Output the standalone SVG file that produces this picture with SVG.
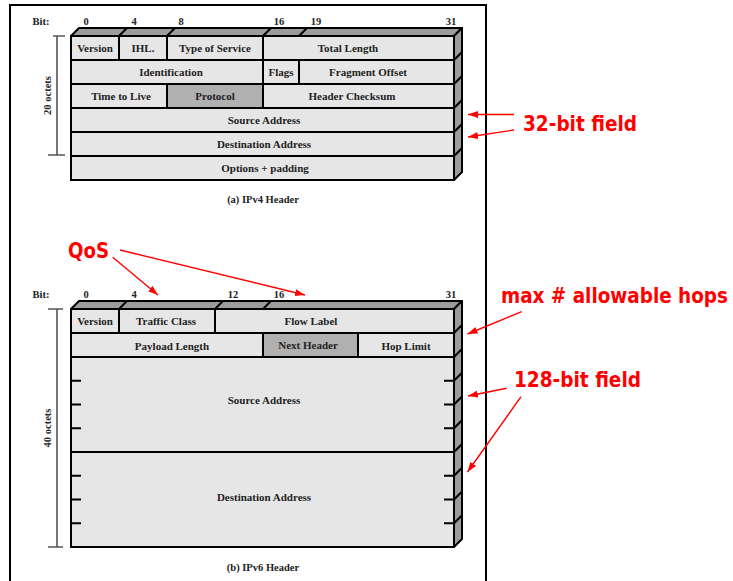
<svg xmlns="http://www.w3.org/2000/svg" width="733" height="581" viewBox="0 0 733 581">
<defs>
<style>
.frame{fill:none;stroke:#000;stroke-width:2}
.face{fill:#e6e6e6;stroke:#000;stroke-width:2}
.shade{fill:#b0b0b0;stroke:#000;stroke-width:2}
.top{fill:#9c9c9c;stroke:#000;stroke-width:2;stroke-linejoin:round}
.ln{stroke:#000;stroke-width:2;fill:none}
.br{stroke:#555;stroke-width:1.6;fill:none}
.t{font-family:"Liberation Serif","Times New Roman",serif;font-weight:bold;font-size:11px;fill:#222;text-anchor:middle}
.b{font-family:"Liberation Serif","Times New Roman",serif;font-weight:bold;font-size:10.5px;fill:#222;text-anchor:middle}
.r{font-family:"DejaVu Sans Condensed","DejaVu Sans",sans-serif;font-weight:bold;font-size:20.5px;fill:#ff0000}
.arr{stroke:#ff0000;stroke-width:1.4;fill:none;marker-end:url(#ah)}
</style>
<marker id="ah" markerUnits="userSpaceOnUse" markerWidth="11" markerHeight="8" refX="10" refY="3.5" orient="auto">
<path d="M0,0 L10,3.5 L0,7 z" fill="#ff0000"/>
</marker>
</defs>
<rect width="733" height="581" fill="#fff"/>
<path class="frame" d="M10,590 L10,5 L486,5 L486,590"/>

<g id="ipv4">
<g id="ipv4-3d">
<path class="top" d="M71,36 L79,28 L462,28 L454,36 Z"/>
<path class="top" d="M454,36 L462,28 L462,172 L454,180 Z"/>
<path class="ln" d="M119,36 L127,28 M167,36 L175,28 M263,36 L271,28 M299,36 L307,28 M454,60 L462,52 M454,84 L462,76 M454,108 L462,100 M454,132 L462,124 M454,156 L462,148"/>
</g>
<g id="v4-version"><rect class="face" x="71" y="36" width="48" height="24"/><text class="t" x="95" y="52">Version</text></g>
<g id="v4-ihl"><rect class="face" x="119" y="36" width="48" height="24"/><text class="t" x="143" y="52">IHL.</text></g>
<g id="v4-tos"><rect class="face" x="167" y="36" width="96" height="24"/><text class="t" x="215" y="52">Type of Service</text></g>
<g id="v4-totlen"><rect class="face" x="263" y="36" width="191" height="24"/><text class="t" x="348" y="52">Total Length</text></g>
<g id="v4-ident"><rect class="face" x="71" y="60" width="192" height="24"/><text class="t" x="171" y="76">Identification</text></g>
<g id="v4-flags"><rect class="face" x="263" y="60" width="36" height="24"/><text class="t" x="281" y="76">Flags</text></g>
<g id="v4-frag"><rect class="face" x="299" y="60" width="155" height="24"/><text class="t" x="368" y="76">Fragment Offset</text></g>
<g id="v4-ttl"><rect class="face" x="71" y="84" width="96" height="24"/><text class="t" x="121" y="100">Time to Live</text></g>
<g id="v4-proto"><rect class="shade" x="167" y="84" width="96" height="24"/><text class="t" x="215" y="100">Protocol</text></g>
<g id="v4-cksum"><rect class="face" x="263" y="84" width="191" height="24"/><text class="t" x="352" y="100">Header Checksum</text></g>
<g id="v4-src"><rect class="face" x="71" y="108" width="383" height="24"/><text class="t" x="264" y="124">Source Address</text></g>
<g id="v4-dst"><rect class="face" x="71" y="132" width="383" height="24"/><text class="t" x="264" y="148">Destination Address</text></g>
<g id="v4-opt"><rect class="face" x="71" y="156" width="383" height="24"/><text class="t" x="265" y="172">Options + padding</text></g>
<g id="v4-bits">
<text class="b" x="41" y="25">Bit:</text>
<text class="b" x="86" y="25">0</text>
<text class="b" x="134" y="25">4</text>
<text class="b" x="181" y="25">8</text>
<text class="b" x="279" y="25">16</text>
<text class="b" x="316" y="25">19</text>
<text class="b" x="451" y="25">31</text>
</g>
<g id="v4-octets">
<path class="br" d="M53,36 L65,36 M57,36 L57,155 M48,155 L65,155"/>
<text class="b" transform="translate(51,95.5) rotate(-90)">20 octets</text>
</g>
<text class="b" x="263" y="203">(a) IPv4 Header</text>
</g>

<g id="ipv6">
<g id="ipv6-3d">
<path class="top" d="M71,309 L79,301 L462,301 L454,309 Z"/>
<path class="top" d="M454,309 L462,301 L462,539 L454,547 Z"/>
<path class="ln" d="M119,309 L127,301 M215,309 L223,301 M263,309 L271,301 M454,333 L462,325 M454,357 L462,349 M454,380.75 L462,372.75 M454,404.5 L462,396.5 M454,428.25 L462,420.25 M454,452 L462,444 M454,475.75 L462,467.75 M454,499.5 L462,491.5 M454,523.25 L462,515.25"/>
</g>
<g id="v6-version"><rect class="face" x="71" y="309" width="48" height="24"/><text class="t" x="95" y="325">Version</text></g>
<g id="v6-tclass"><rect class="face" x="119" y="309" width="96" height="24"/><text class="t" x="166" y="325">Traffic Class</text></g>
<g id="v6-flow"><rect class="face" x="215" y="309" width="239" height="24"/><text class="t" x="311" y="325">Flow Label</text></g>
<g id="v6-plen"><rect class="face" x="71" y="333" width="192" height="24"/><text class="t" x="172" y="350">Payload Length</text></g>
<g id="v6-next"><rect class="shade" x="263" y="333" width="95" height="24"/><text class="t" x="308" y="349">Next Header</text></g>
<g id="v6-hop"><rect class="face" x="358" y="333" width="96" height="24"/><text class="t" x="406" y="350">Hop Limit</text></g>
<g id="v6-src"><rect class="face" x="71" y="357" width="383" height="95"/>
<path class="ln" d="M71,380.75 L81,380.75 M71,404.5 L81,404.5 M71,428.25 L81,428.25 M444,380.75 L454,380.75 M444,404.5 L454,404.5 M444,428.25 L454,428.25"/>
<text class="t" x="264" y="404">Source Address</text></g>
<g id="v6-dst"><rect class="face" x="71" y="452" width="383" height="95"/>
<path class="ln" d="M71,475.75 L81,475.75 M71,499.5 L81,499.5 M71,523.25 L81,523.25 M444,475.75 L454,475.75 M444,499.5 L454,499.5 M444,523.25 L454,523.25"/>
<text class="t" x="264" y="501">Destination Address</text></g>
<g id="v6-bits">
<text class="b" x="41" y="298">Bit:</text>
<text class="b" x="86" y="298">0</text>
<text class="b" x="134" y="298">4</text>
<text class="b" x="233" y="298">12</text>
<text class="b" x="279" y="298">16</text>
<text class="b" x="451" y="298">31</text>
</g>
<g id="v6-octets">
<path class="br" d="M48,309 L63,309 M57,309 L57,547 M48,547 L63,547"/>
<text class="b" transform="translate(51,428) rotate(-90)">40 octets</text>
</g>
<text class="b" x="263" y="571">(b) IPv6 Header</text>
</g>

<g id="labels">
<text id="lbl-32" class="r" x="523" y="131" textLength="114" lengthAdjust="spacingAndGlyphs">32-bit field</text>
<text id="lbl-qos" class="r" x="68" y="258" textLength="41" lengthAdjust="spacingAndGlyphs">QoS</text>
<text id="lbl-hops" class="r" x="501" y="303" textLength="227" lengthAdjust="spacingAndGlyphs">max # allowable hops</text>
<text id="lbl-128" class="r" x="514" y="387" textLength="127" lengthAdjust="spacingAndGlyphs">128-bit field</text>
</g>

<g id="connectors">
<line class="arr" x1="514" y1="114.5" x2="468" y2="114.5"/>
<line class="arr" x1="514" y1="130" x2="468" y2="137"/>
<line class="arr" x1="112.7" y1="257.3" x2="158" y2="295"/>
<line class="arr" x1="120" y1="250" x2="305" y2="295"/>
<line class="arr" x1="521.7" y1="311.7" x2="467.5" y2="334"/>
<line class="arr" x1="506.7" y1="388.3" x2="468" y2="396"/>
<line class="arr" x1="521" y1="396.7" x2="467.5" y2="472"/>
</g>
</svg>
